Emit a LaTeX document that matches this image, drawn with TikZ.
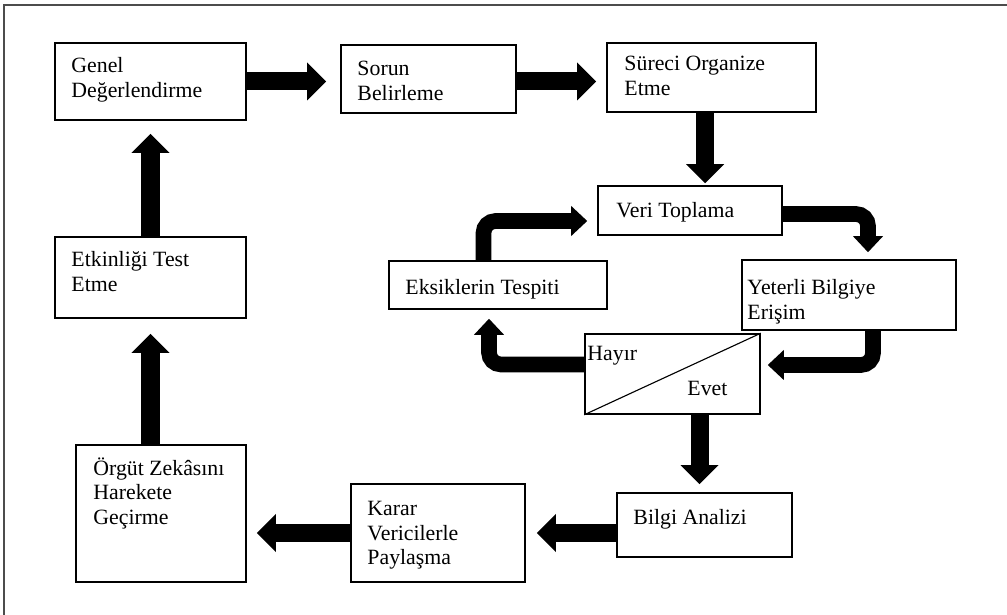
\documentclass[tikz,border=0pt]{standalone}
\usepackage{fontspec}
\setmainfont{Liberation Serif}
\usetikzlibrary{arrows.meta}

\begin{document}
\begin{tikzpicture}[x=0.025cm, y=-0.025cm,
    kutu/.style={draw, line width=1.1pt, inner sep=0pt},
    yazi/.style={anchor=north west, inner sep=0pt, align=left, font=\fontsize{15.5}{17.5}\selectfont},
    okduz/.style={line width=0.45cm, -{Triangle[length=0.475cm, width=0.95cm, line width=0pt]}},
    okkivrik/.style={line width=0.39cm, rounded corners=0.3cm, -{Triangle[length=0.4cm, width=0.75cm, line width=0pt]}}]
                \useasboundingbox (0,0) rectangle (1007,615);
                \draw [black!70, line width=1pt] (4,615) -- (4,5) -- (1007,5);
                % kutular
                \node [kutu, minimum width=4.775cm, minimum height=1.925cm] (genel) at (150.5,81.5) {};
                \node [kutu, minimum width=4.375cm, minimum height=1.7cm] (sorun) at (428.5,79) {};
                \node [kutu, minimum width=5.225cm, minimum height=1.725cm] (surec) at (711.5,77.5) {};
                \node [kutu, minimum width=4.6cm, minimum height=1.225cm] (veri) at (690,210.5) {};
                \node [kutu, minimum width=5.45cm, minimum height=1.2cm] (eksik) at (498,285) {};
                \node [kutu, minimum width=5.35cm, minimum height=1.75cm] (yeterli) at (849,295) {};
                \node [kutu, minimum width=4.375cm, minimum height=2cm] (hayir) at (672.5,374) {};
                \node [kutu, minimum width=4.375cm, minimum height=1.6cm] (bilgi) at (704.5,525) {};
                \node [kutu, minimum width=4.35cm, minimum height=2.45cm] (karar) at (438,533) {};
                \node [kutu, minimum width=4.25cm, minimum height=3.425cm] (orgut) at (161,513.5) {};
                \node [kutu, minimum width=4.775cm, minimum height=2.025cm] (etkin) at (150.5,277.5) {};
                \draw [line width=0.8pt] (hayir.south west) -- (hayir.north east);
                % yazilar
                \node [yazi] (genel-y) at ([shift={(17,15)}]genel.north west) {Genel\\Değerlendirme};
                \node [yazi] (sorun-y) at ([shift={(17,17)}]sorun.north west) {Sorun\\Belirleme};
                \node [yazi] (surec-y) at ([shift={(18,14)}]surec.north west) {Süreci Organize\\Etme};
                \node [yazi] (veri-y) at ([shift={(19,17)}]veri.north west) {Veri Toplama};
                \node [yazi] (eksik-y) at ([shift={(17,19)}]eksik.north west) {Eksiklerin Tespiti};
                \node [yazi] (yeterli-y) at ([shift={(6,20)}]yeterli.north west) {Yeterli Bilgiye\\Erişim};
                \node [yazi] (hayir-y) at ([shift={(3,13)}]hayir.north west) {Hayır};
                \node [yazi] (evet-y) at ([shift={(103,48)}]hayir.north west) {Evet};
                \node [yazi] (bilgi-y) at ([shift={(17,17)}]bilgi.north west) {Bilgi Analizi};
                \node [yazi] (karar-y) at ([shift={(17,18)}]karar.north west) {Karar\\Vericilerle\\Paylaşma};
                \node [yazi] (orgut-y) at ([shift={(18,13)}]orgut.north west) {Örgüt Zekâsını\\Harekete\\Geçirme};
                \node [yazi] (etkin-y) at ([shift={(17,15)}]etkin.north west) {Etkinliği Test\\Etme};
                % oklar
                \draw [okduz, shorten >=0.35cm] (genel.east) -- (genel.east -| sorun.west);
                \draw [okduz, shorten >=0.25cm] (sorun.east |- genel.east) -- (surec.west |- genel.east);
                \draw [okduz, shorten >=0.05cm] ([xshift=-0.16cm]surec.south) -- ([xshift=-0.16cm]surec.south |- veri.north);
                \draw [okkivrik, shorten >=0.175cm] ([yshift=-0.0875cm]veri.east) -| ([xshift=0.475cm]yeterli.north);
                \draw [okkivrik, shorten >=0.175cm] ([xshift=0.6cm]yeterli.south) |- ([yshift=0.225cm]hayir.east);
                \draw [okkivrik, shorten >=0.225cm] ([yshift=0.2375cm]hayir.west) -| ([xshift=-0.225cm]eksik.south);
                \draw [okkivrik, shorten >=0.25cm] ([xshift=-0.3625cm]eksik.north) |- ([yshift=-0.2625cm]veri.west);
                \draw [okduz, shorten >=0.2cm] ([xshift=-0.125cm]bilgi.north |- hayir.south) -- ([xshift=-0.125cm]bilgi.north);
                \draw [okduz, shorten >=0.275cm] (bilgi.west |- karar.east) -- (karar.east);
                \draw [okduz, shorten >=0.25cm] (karar.west) -- (karar.west -| orgut.east);
                \draw [okduz, shorten >=0.375cm] (etkin.south |- orgut.north) -- (etkin.south);
                \draw [okduz, shorten >=0.325cm] (etkin.north) -- (genel.south);
            \end{tikzpicture}
\end{document}
